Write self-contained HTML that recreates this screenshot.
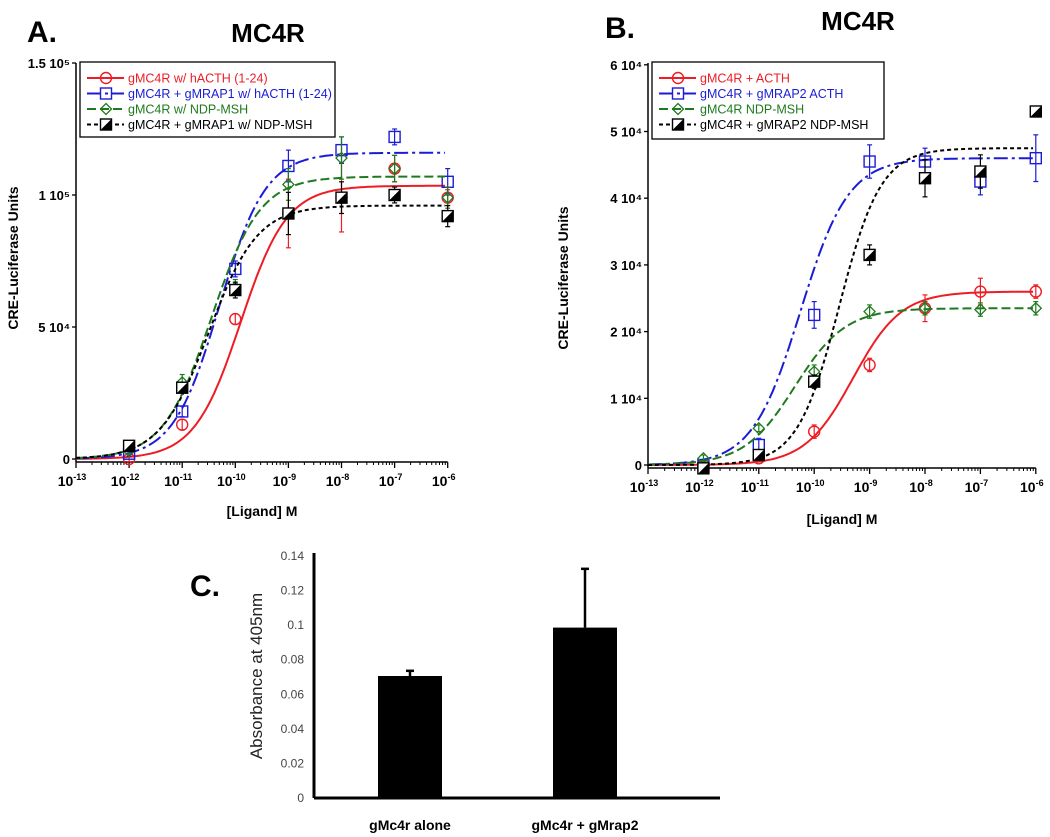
<!DOCTYPE html>
<html><head><meta charset="utf-8">
<style>
body{margin:0;background:#fff;}
svg{display:block;font-family:"Liberation Sans",Arial,sans-serif;}
</style></head>
<body>
<svg id="svg" width="1050" height="837" viewBox="0 0 1050 837" xmlns="http://www.w3.org/2000/svg">
<rect width="1050" height="837" fill="#fff"/>
<g id="pA"></g>
<g id="pB"></g>
<g id="pC"></g>
</svg>
<script>
// ---- data ----
const logDoses = [-12, -11, -10, -9, -8, -7, -6];
const xTickExps = [-13, -12, -11, -10, -9, -8, -7, -6];
// Panel A values (units of 1e4)
const aRed   = [0.0, 1.3, 5.3, 9.3, 9.9, 11.0, 9.9];
const aBlue  = [0.2, 1.8, 7.2, 11.1, 11.7, 12.2, 10.5];
const aGreen = [0.3, 2.9, 6.5, 10.4, 11.4, 11.0, 9.9];
const aBlack = [0.5, 2.7, 6.4, 9.3, 9.9, 10.0, 9.2];
const aRedErr   = [0.1, 0.2, 0.2, 1.3, 1.3, 0.5, 0.3];
const aBlueErr  = [0.1, 0.2, 0.3, 0.6, 0.5, 0.3, 0.5];
const aGreenErr = [0.1, 0.3, 0.3, 0.6, 0.8, 0.5, 0.4];
const aBlackErr = [0.1, 0.2, 0.3, 0.8, 0.6, 0.3, 0.4];
// fit params: [top, logEC50, hill]
const aRedFit   = [10.35, -9.9, 1.0];
const aBlueFit  = [11.6, -10.3, 1.0];
const aGreenFit = [10.7, -10.45, 0.95];
const aBlackFit = [9.6, -10.5, 0.95];
const aYTicks = ["0", "5 10\u2074", "1 10\u2075", "1.5 10\u2075"];
const aYTickVals = [0, 5, 10, 15];
const aLegend = ["gMC4R w/ hACTH (1-24)", "gMC4R + gMRAP1 w/ hACTH (1-24)", "gMC4R w/ NDP-MSH", "gMC4R + gMRAP1 w/ NDP-MSH"];
// Panel B values (units of 1e4)
const bRed   = [0.0, 0.1, 0.5, 1.5, 2.35, 2.6, 2.6];
const bBlue  = [0.0, 0.3, 2.25, 4.55, 4.55, 4.25, 4.6];
const bGreen = [0.1, 0.55, 1.4, 2.3, 2.35, 2.33, 2.35];
const bBlack = [-0.05, 0.15, 1.25, 3.15, 4.3, 4.4, 5.3];
const bRedErr   = [0.05, 0.05, 0.1, 0.1, 0.2, 0.2, 0.1];
const bBlueErr  = [0.05, 0.1, 0.2, 0.25, 0.2, 0.2, 0.35];
const bGreenErr = [0.05, 0.05, 0.1, 0.1, 0.1, 0.1, 0.1];
const bBlackErr = [0.05, 0.05, 0.1, 0.15, 0.28, 0.25, 0.0];
const bRedFit   = [2.6, -9.3, 1.0];
const bBlueFit  = [4.6, -10.25, 1.0];
const bGreenFit = [2.35, -10.35, 0.95];
const bBlackFit = [4.75, -9.55, 1.15];
const bYTicks = ["0", "1 10\u2074", "2 10\u2074", "3 10\u2074", "4 10\u2074", "5 10\u2074", "6 10\u2074"];
const bYTickVals = [0, 1, 2, 3, 4, 5, 6];
const bLegend = ["gMC4R + ACTH", "gMC4R + gMRAP2 ACTH", "gMC4R  NDP-MSH", "gMC4R + gMRAP2  NDP-MSH"];
// Panel C
const cCategories = ["gMc4r alone", "gMc4r + gMrap2"];
const cValues = [0.070, 0.098];
const cErrors = [0.003, 0.034];
const cYTicks = ["0", "0.02", "0.04", "0.06", "0.08", "0.1", "0.12", "0.14"];
const cYTickVals = [0, 0.02, 0.04, 0.06, 0.08, 0.1, 0.12, 0.14];

const NS = "http://www.w3.org/2000/svg";
function mk(parent, tag, attrs, name, text){
  const e = document.createElementNS(NS, tag);
  for (const k in attrs) e.setAttribute(k, attrs[k]);
  
  
  if (text !== undefined) e.textContent = text;
  parent.appendChild(e);
  return e;
}
const COLORS = ["#ee1c24", "#1c1cd6", "#1f7a1f", "#000"];
const DASH = ["", "14 4 3 4", "9 4", "4 3"];

function marker(g, kind, x, y, color){
  const s = 5.5;
  if (kind === 0) mk(g, 'circle', {cx:x, cy:y, r:s, fill:'none', stroke:color, 'stroke-width':1.4}, 'marker-circle');
  else if (kind === 1) mk(g, 'rect', {x:x-s, y:y-s, width:2*s, height:2*s, fill:'none', stroke:color, 'stroke-width':1.4}, 'marker-square');
  else if (kind === 2) mk(g, 'path', {d:`M${x-s},${y}L${x},${y-s}L${x+s},${y}L${x},${y+s}Z`, fill:'none', stroke:color, 'stroke-width':1.3}, 'marker-diamond');
  else {
    mk(g, 'rect', {x:x-s, y:y-s, width:2*s, height:2*s, fill:'#fff', stroke:'#000', 'stroke-width':1.4}, 'marker-half-square');
    mk(g, 'path', {d:`M${x+s},${y-s}L${x+s},${y+s}L${x-s},${y+s}Z`, fill:'#000'}, 'marker-half-fill');
  }
}

function dosePanel(g, o){
  const X = v => o.x0 + (v + 13) * o.dec;
  const Y = v => o.y0 - v * o.unit;
  mk(g, 'line', {x1:o.x0, y1:o.yTop, x2:o.x0, y2:o.y0+3, stroke:'#000', 'stroke-width':1.5}, 'y-axis');
  mk(g, 'line', {x1:o.x0, y1:o.y0+3, x2:X(-6), y2:o.y0+3, stroke:'#000', 'stroke-width':1.5}, 'x-axis');
  o.yVals.forEach((v,i)=>{
    mk(g, 'line', {x1:o.x0-4, y1:Y(v), x2:o.x0, y2:Y(v), stroke:'#000', 'stroke-width':1.3}, 'y-tick');
    mk(g, 'text', {x:o.x0-6, y:Y(v)+5, 'text-anchor':'end', 'font-size':13, 'font-weight':'bold'}, 'y-tick-label', o.yLabels[i]);
  });
  xTickExps.forEach(e=>{
    mk(g, 'line', {x1:X(e), y1:o.y0+3, x2:X(e), y2:o.y0+9, stroke:'#000', 'stroke-width':1.3}, 'x-tick');
    if (e < -6) for (let k=2;k<10;k++){
      const xx = X(e + Math.log10(k));
      mk(g, 'line', {x1:xx, y1:o.y0+3, x2:xx, y2:o.y0+6, stroke:'#000', 'stroke-width':1}, 'x-minor-tick');
    }
    const t = mk(g, 'text', {x:X(e)-4, y:o.y0+27, 'text-anchor':'middle', 'font-size':14, 'font-weight':'bold'}, 'x-tick-label', '10');
    const sp = document.createElementNS(NS,'tspan');
    sp.setAttribute('dy', -6); sp.setAttribute('font-size', 9); sp.textContent = String(e);
    t.appendChild(sp);
  });
  mk(g, 'text', {x:o.xTitleX, y:o.xTitleY, 'text-anchor':'middle', 'font-size':14, 'font-weight':'bold'}, 'x-axis-title', '[Ligand] M');
  mk(g, 'text', {x:o.yTitleX, y:o.yTitleY, 'text-anchor':'middle', 'font-size':14, 'font-weight':'bold', transform:`rotate(-90 ${o.yTitleX} ${o.yTitleY})`}, 'y-axis-title', 'CRE-Luciferase Units');
  o.series.forEach((s,si)=>{
    const sg = mk(g, 'g', {}, 'series-' + si);
    let d = '';
    for (let lx=-13; lx<=-6.0001; lx+=0.05){
      const v = s.fit[0] / (1 + Math.pow(10, (s.fit[1]-lx)*s.fit[2]));
      d += (d?'L':'M') + X(lx).toFixed(1) + ',' + Y(v).toFixed(1);
    }
    mk(sg, 'path', {d:d, fill:'none', stroke:COLORS[si], 'stroke-width':2, 'stroke-dasharray':DASH[si]}, 'fit-curve');
    logDoses.forEach((ld,i)=>{
      const x = X(ld), y = Y(s.vals[i]), e = s.err[i]*o.unit;
      if (e > 1){
        mk(sg, 'line', {x1:x, y1:y-e, x2:x, y2:y+e, stroke:COLORS[si], 'stroke-width':1.2}, 'error-bar');
        mk(sg, 'line', {x1:x-2.5, y1:y-e, x2:x+2.5, y2:y-e, stroke:COLORS[si], 'stroke-width':1.2}, 'error-cap');
        mk(sg, 'line', {x1:x-2.5, y1:y+e, x2:x+2.5, y2:y+e, stroke:COLORS[si], 'stroke-width':1.2}, 'error-cap');
      }
      marker(sg, si, x, y, COLORS[si]);
    });
  });
  const L = o.leg;
  const lg = mk(g, 'g', {}, 'legend');
  mk(lg, 'rect', {x:L.x, y:L.y, width:L.w, height:L.h, fill:'#fff', stroke:'#000', 'stroke-width':1.3}, 'legend-box');
  o.legend.forEach((t,i)=>{
    const yy = L.y + 16 + i*15.5;
    mk(lg, 'line', {x1:L.x+7, y1:yy, x2:L.x+44, y2:yy, stroke:COLORS[i], 'stroke-width':2, 'stroke-dasharray':DASH[i]}, 'legend-line');
    marker(lg, i, L.x+26, yy, COLORS[i]);
    mk(lg, 'text', {x:L.x+48, y:yy+4.5, 'font-size':12.5, fill:COLORS[i]}, 'legend-entry', t);
  });
}

const A = document.getElementById('pA');
mk(A, 'text', {x:27, y:42, 'font-size':30, 'font-weight':'bold'}, 'panel-label-a', 'A.');
mk(A, 'text', {x:268, y:42, 'text-anchor':'middle', 'font-size':26, 'font-weight':'bold'}, 'chart-title-a', 'MC4R');
dosePanel(A, {x0:76, dec:53.1, y0:459, unit:26.4, yTop:63, yVals:aYTickVals, yLabels:aYTicks,
  xTitleX:262, xTitleY:516, yTitleX:18, yTitleY:258,
  series:[{vals:aRed,err:aRedErr,fit:aRedFit},{vals:aBlue,err:aBlueErr,fit:aBlueFit},{vals:aGreen,err:aGreenErr,fit:aGreenFit},{vals:aBlack,err:aBlackErr,fit:aBlackFit}],
  legend:aLegend, leg:{x:80,y:62,w:255,h:75}});

const B = document.getElementById('pB');
mk(B, 'text', {x:605, y:38, 'font-size':30, 'font-weight':'bold'}, 'panel-label-b', 'B.');
mk(B, 'text', {x:858, y:30, 'text-anchor':'middle', 'font-size':26, 'font-weight':'bold'}, 'chart-title-b', 'MC4R');
dosePanel(B, {x0:648, dec:55.4, y0:465, unit:66.7, yTop:63, yVals:bYTickVals, yLabels:bYTicks,
  xTitleX:842, xTitleY:524, yTitleX:568, yTitleY:278,
  series:[{vals:bRed,err:bRedErr,fit:bRedFit},{vals:bBlue,err:bBlueErr,fit:bBlueFit},{vals:bGreen,err:bGreenErr,fit:bGreenFit},{vals:bBlack,err:bBlackErr,fit:bBlackFit}],
  legend:bLegend, leg:{x:652,y:62,w:232,h:77}});

const C = document.getElementById('pC');
mk(C, 'text', {x:190, y:596, 'font-size':30, 'font-weight':'bold'}, 'panel-label-c', 'C.');
const cx0 = 314, cy0 = 797, cScale = (797-555)/0.14;
const CY = v => cy0 - v*cScale;
const cCenters = [410, 585], barW = 64;
mk(C, 'line', {x1:cx0, y1:553, x2:cx0, y2:cy0+1, stroke:'#000', 'stroke-width':3}, 'y-axis');
mk(C, 'line', {x1:cx0, y1:cy0+1, x2:720, y2:cy0+1, stroke:'#000', 'stroke-width':3}, 'x-axis');
cYTickVals.forEach((v,i)=>{
  mk(C, 'text', {x:cx0-10, y:CY(v)+5, 'text-anchor':'end', 'font-size':12, fill:'#444'}, 'y-tick-label', cYTicks[i]);
});
mk(C, 'text', {x:262, y:676, 'text-anchor':'middle', 'font-size':17, fill:'#222', transform:'rotate(-90 262 676)'}, 'y-axis-title', 'Absorbance at 405nm');
cValues.forEach((v,i)=>{
  const x = cCenters[i];
  mk(C, 'rect', {x:x-barW/2, y:CY(v), width:barW, height:cy0-CY(v), fill:'#000'}, 'bar-' + (i+1));
  mk(C, 'line', {x1:x, y1:CY(v), x2:x, y2:CY(v+cErrors[i]), stroke:'#000', 'stroke-width':2.5}, 'error-bar');
  mk(C, 'line', {x1:x-4, y1:CY(v+cErrors[i]), x2:x+4, y2:CY(v+cErrors[i]), stroke:'#000', 'stroke-width':2.5}, 'error-cap');
  mk(C, 'text', {x:x, y:830, 'text-anchor':'middle', 'font-size':14, 'font-weight':'bold'}, 'x-category-label', cCategories[i]);
});
</script>
</body></html>
